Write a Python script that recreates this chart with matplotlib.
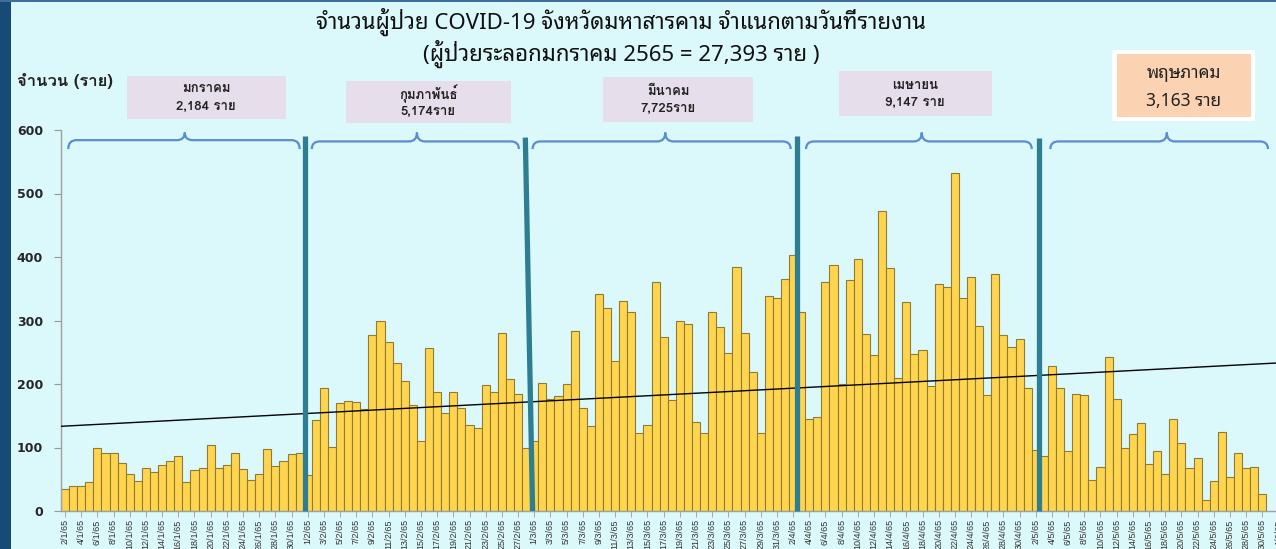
import matplotlib
matplotlib.use("Agg")
import matplotlib.pyplot as plt
import numpy as np
import pandas as pd
from matplotlib.patches import Rectangle, PathPatch
from matplotlib.path import Path
from matplotlib.lines import Line2D

# ---------------- data ----------------
jan = [35, 39, 39, 46, 99, 92, 92, 76, 58, 47, 68, 62, 73, 78, 86, 46, 64, 68, 104, 68,
       72, 92, 66, 49, 58, 97, 71, 78, 89, 92]                      # 2/1 - 31/1
feb = [57, 144, 193, 101, 170, 173, 172, 161, 277, 300, 266, 233, 205, 167, 111, 257,
       187, 154, 188, 162, 136, 131, 199, 187, 281, 208, 184, 100]   # 1/2 - 28/2
mar = [111, 202, 176, 181, 200, 284, 162, 134, 342, 320, 236, 331, 313, 123, 136, 360,
       274, 175, 299, 295, 140, 123, 313, 289, 249, 385, 281, 219, 123, 339, 335]  # 1/3 - 31/3
apr = [365, 403, 313, 145, 148, 360, 387, 200, 363, 397, 279, 245, 472, 383, 210, 329,
       247, 253, 197, 357, 353, 533, 335, 368, 292, 183, 373, 277, 258, 271]       # 1/4 - 30/4
may = [194, 96, 86, 229, 194, 94, 184, 182, 49, 70, 242, 177, 99, 122, 138, 74, 94, 59,
       145, 107, 67, 83, 17, 47, 125, 54, 92, 67, 70, 27]                           # 1/5 - 30/5

dates = pd.date_range("2022-01-02", "2022-06-01", freq="D")
date_labels = [f"{d.day}/{d.month}/65" for d in dates]

month_names = ["มกราคม", "กุมภาพันธ์", "มีนาคม", "เมษายน", "พฤษภาคม"]
month_totals = ["2,184 ราย", "5,174ราย", "7,725ราย", "9,147 ราย", "3,163 ราย"]

title1 = "จำนวนผู้ป่วย COVID-19 จังหวัดมหาสารคาม จำแนกตามวันที่รายงาน"
title2 = "(ผู้ป่วยระลอกมกราคม 2565 = 27,393 ราย )"
ylabel = "จำนวน (ราย)"

values = np.array(jan + feb + mar + apr + may, dtype=float)
n_cat = len(dates)

# ---------------- style ----------------
W, H = 1276, 549
BG = "#DBF8FB"
THAI = ["Noto Sans Thai Looped", "Loma", "DejaVu Sans"]
THAI_BOLD = ["Loma", "IBM Plex Sans Thai Looped", "Noto Sans Thai Looped", "DejaVu Sans"]

fig = plt.figure(figsize=(W / 100, H / 100), dpi=100, facecolor=BG)

def fx(px):
    return px / W

def fy(py):
    return 1 - py / H

# left dark strip and top border (slide background)
fig.add_artist(Rectangle((0, 0), fx(11), 1, transform=fig.transFigure,
                         facecolor="#184A78", edgecolor="none", zorder=0))
fig.add_artist(Rectangle((0, fy(2)), 1, 2 / H, transform=fig.transFigure,
                         facecolor="#3E6E9E", edgecolor="none", zorder=0))

ax_left, ax_right = 61, 1282.5
ax_top, ax_bot = 130, 511
ax = fig.add_axes([fx(ax_left), fy(ax_bot), (ax_right - ax_left) / W, (ax_bot - ax_top) / H])
ax.set_facecolor("none")

x = np.arange(len(values))
ax.bar(x, values, width=1.0, color="#FFD54F", edgecolor="#8F7B33", linewidth=0.8, zorder=2)

# linear trend line
coef = np.polyfit(x, values, 1)
xt = np.array([-0.5, n_cat - 0.5])
ax.plot(xt, np.polyval(coef, xt), color="black", linewidth=1.0, zorder=3)

ax.set_xlim(-0.5, n_cat - 0.5)
ax.set_ylim(0, 600)
ax.set_yticks(range(0, 601, 100))
ax.set_yticklabels([str(v) for v in range(0, 601, 100)], fontsize=9, fontweight="bold",
                   color="#262626", family="DejaVu Sans")
ax.set_xticks(np.arange(0, n_cat, 2))
ax.set_xticklabels(date_labels[::2], rotation=90, fontsize=6.5, color="#333333",
                   family="Liberation Sans")
ax.tick_params(axis="x", length=4, width=0.6, color="#9A9A9A", pad=2)
ax.tick_params(axis="y", length=5, width=0.8, color="#9A9A9A", pad=8)
for s in ["top", "right"]:
    ax.spines[s].set_visible(False)
ax.spines["left"].set_color("#A0A0A0")
ax.spines["bottom"].set_color("#A0A0A0")
ax.spines["left"].set_linewidth(1.0)
ax.spines["bottom"].set_linewidth(1.0)

# month separator lines (decoration)
sep_lines = [((29.67, 590), (29.67, 0)), ((56.9, 588), (57.8, 0)),
             ((90.5, 590), (90.5, 0)), ((120.45, 588), (120.45, 0))]
for (x0, y0), (x1, y1) in sep_lines:
    ax.add_line(Line2D([x0, x1], [y0, y1], color="#2E7E93", linewidth=3.8,
                       solid_capstyle="butt", zorder=4, clip_on=False))

# braces (decoration)
def brace(x0, x1, xm, yl=582, ye=570, yt=596, r=1.0):
    verts = [(x0, ye), (x0, yl), (x0 + r, yl),
             (xm - r, yl), (xm, yl), (xm, yt),
             (xm, yl), (xm + r, yl),
             (x1 - r, yl), (x1, yl), (x1, ye)]
    codes = [Path.MOVETO, Path.CURVE3, Path.CURVE3,
             Path.LINETO, Path.CURVE3, Path.CURVE3,
             Path.CURVE3, Path.CURVE3,
             Path.LINETO, Path.CURVE3, Path.CURVE3]
    ax.add_patch(PathPatch(Path(verts, codes), facecolor="none", edgecolor="#5B8DD0",
                           linewidth=1.6, clip_on=False, zorder=4))

brace(0.4, 29.0, 14.8, yl=584)
brace(30.5, 56.1, 43.5)
brace(57.8, 89.7, 74.2)
brace(91.6, 119.5, 105.9)
brace(121.8, 148.7, 136.2)

# titles
fig.text(fx(621), fy(22), title1, ha="center", va="center", fontsize=16,
         family=THAI, color="#111111")
fig.text(fx(621), fy(54), title2, ha="center", va="center", fontsize=16,
         family=THAI, color="#111111")
fig.text(fx(17), fy(81), ylabel, ha="left", va="center", fontsize=12,
         family=THAI_BOLD, fontweight="bold", color="#222222")

# month boxes
boxes = [(127, 76, 286, 119, 206), (346, 81, 511, 123, 428), (603, 77, 753, 122, 668),
         (839, 71, 992, 116, 915)]
for (x0, y0, x1, y1, cx), name, tot in zip(boxes, month_names[:4], month_totals[:4]):
    fig.add_artist(Rectangle((fx(x0), fy(y1)), fx(x1) - fx(x0), fy(y0) - fy(y1),
                             transform=fig.transFigure, facecolor="#E6DFEB",
                             edgecolor="none", zorder=1))
    ym = (y0 + y1) / 2
    fig.text(fx(cx), fy(ym - 8), name, ha="center", va="center", fontsize=9.5,
             fontweight="bold", family=THAI_BOLD, color="#222222")
    fig.text(fx(cx), fy(ym + 9), tot, ha="center", va="center", fontsize=9.5,
             fontweight="bold", family=THAI_BOLD, color="#222222")

# May box (white border, peach fill)
fig.add_artist(Rectangle((fx(1112), fy(121)), fx(1255) - fx(1112), fy(50) - fy(121),
                         transform=fig.transFigure, facecolor="white",
                         edgecolor="none", zorder=1))
fig.add_artist(Rectangle((fx(1117), fy(117)), fx(1251) - fx(1117), fy(54) - fy(117),
                         transform=fig.transFigure, facecolor="#FCD3B2",
                         edgecolor="none", zorder=1))
fig.text(fx(1184), fy(73), month_names[4], ha="center", va="center", fontsize=12.5,
         family=THAI, color="#222222")
fig.text(fx(1184), fy(101), month_totals[4], ha="center", va="center", fontsize=12.5,
         family=THAI, color="#222222")

fig.savefig("out.png", dpi=100, facecolor=BG)
